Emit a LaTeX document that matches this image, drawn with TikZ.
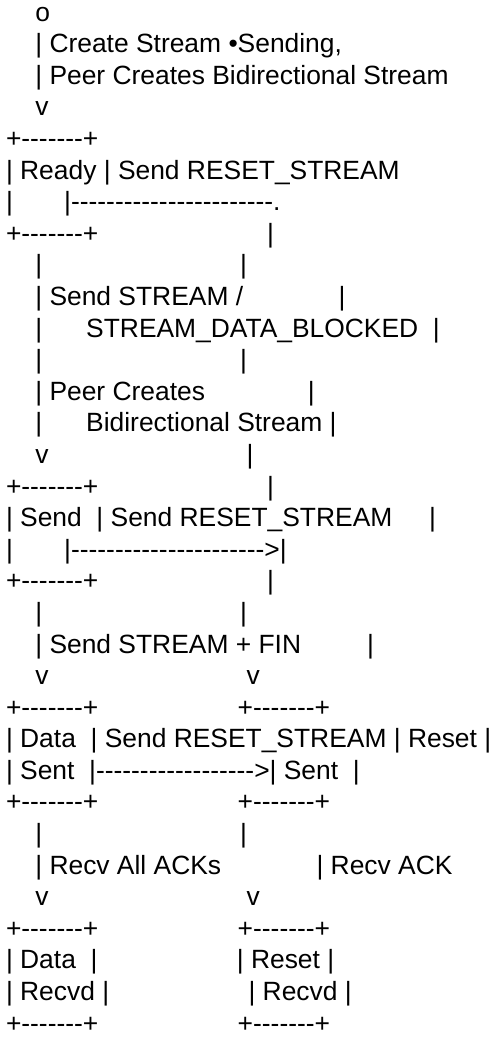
\documentclass[tikz,border=0pt]{standalone}
\usepackage{fontspec}
\newfontfamily\asciifont{Liberation Sans}
\frenchspacing
\begin{document}
\begin{tikzpicture}[x=1pt,y=31.6pt,
  row/.style={anchor=base west,inner sep=0pt,outer sep=0pt,
    font=\asciifont\fontsize{26.4pt}{31.6pt}\selectfont}]
  \useasboundingbox (0,-0.3354) rectangle (492,-33.184);

  \node[row] (L1)  at (6,-1)  {~~~~o};
  \node[row] (L2)  at (6,-2)  {~~~~| Create Stream •Sending,};
  \node[row] (L3)  at (6,-3)  {~~~~| Peer Creates Bidirectional Stream};
  \node[row] (L4)  at (6,-4)  {~~~~v};
  \node[row] (L5)  at (6,-5)  {+-------+};
  \node[row] (L6)  at (6,-6)  {| Ready | Send RESET\_STREAM};
  \node[row] (L7)  at (6,-7)  {|~~~~~~~|-----------------------.};
  \node[row] (L8)  at (6,-8)  {+-------+~~~~~~~~~~~~~~~~~~~~~~~|};
  \node[row] (L9)  at (6,-9)  {~~~~|~~~~~~~~~~~~~~~~~~~~~~~~~~~|};
  \node[row] (L10) at (6,-10) {~~~~| Send STREAM /~~~~~~~~~~~~~|};
  \node[row] (L11) at (6,-11) {~~~~|~~~~~~STREAM\_DATA\_BLOCKED~~|};
  \node[row] (L12) at (6,-12) {~~~~|~~~~~~~~~~~~~~~~~~~~~~~~~~~|};
  \node[row] (L13) at (6,-13) {~~~~| Peer Creates~~~~~~~~~~~~~~|};
  \node[row] (L14) at (6,-14) {~~~~|~~~~~~Bidirectional Stream~|};
  \node[row] (L15) at (6,-15) {~~~~v~~~~~~~~~~~~~~~~~~~~~~~~~~~|};
  \node[row] (L16) at (6,-16) {+-------+~~~~~~~~~~~~~~~~~~~~~~~|};
  \node[row] (L17) at (6,-17) {| Send~~| Send RESET\_STREAM~~~~~|};
  \node[row] (L18) at (6,-18) {|~~~~~~~|---------------------->|};
  \node[row] (L19) at (6,-19) {+-------+~~~~~~~~~~~~~~~~~~~~~~~|};
  \node[row] (L20) at (6,-20) {~~~~|~~~~~~~~~~~~~~~~~~~~~~~~~~~|};
  \node[row] (L21) at (6,-21) {~~~~| Send STREAM + FIN~~~~~~~~~|};
  \node[row] (L22) at (6,-22) {~~~~v~~~~~~~~~~~~~~~~~~~~~~~~~~~v};
  \node[row] (L23) at (6,-23) {+-------+~~~~~~~~~~~~~~~~~~~+-------+};
  \node[row] (L24) at (6,-24) {| Data~~| Send RESET\_STREAM | Reset |};
  \node[row] (L25) at (6,-25) {| Sent~~|------------------>| Sent~~|};
  \node[row] (L26) at (6,-26) {+-------+~~~~~~~~~~~~~~~~~~~+-------+};
  \node[row] (L27) at (6,-27) {~~~~|~~~~~~~~~~~~~~~~~~~~~~~~~~~|};
  \node[row] (L28) at (6,-28) {~~~~| Recv All ACKs~~~~~~~~~~~~~| Recv ACK};
  \node[row] (L29) at (6,-29) {~~~~v~~~~~~~~~~~~~~~~~~~~~~~~~~~v};
  \node[row] (L30) at (6,-30) {+-------+~~~~~~~~~~~~~~~~~~~+-------+};
  \node[row] (L31) at (6,-31) {| Data~~|~~~~~~~~~~~~~~~~~~~| Reset |};
  \node[row] (L32) at (6,-32) {| Recvd |~~~~~~~~~~~~~~~~~~~| Recvd |};
  \node[row] (L33) at (6,-33) {+-------+~~~~~~~~~~~~~~~~~~~+-------+};
\end{tikzpicture}
\end{document}
